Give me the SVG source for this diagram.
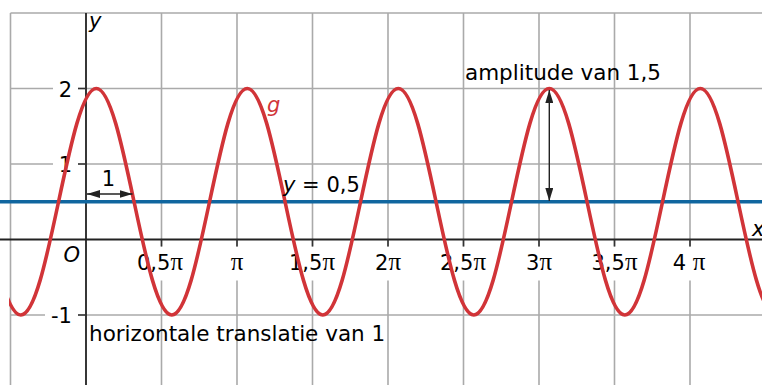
<svg xmlns="http://www.w3.org/2000/svg" width="762" height="385" viewBox="0 0 762 385">
<defs>
<style>
.grid{stroke:#aaaaaa;stroke-width:1.6;fill:none}
.axis{stroke:#222;stroke-width:1.8;fill:none}
.tick{stroke:#333;stroke-width:1.6}
.bg{fill:#fff}
text{font-family:"DejaVu Sans","Liberation Sans",sans-serif;font-size:21px;fill:#000}
.ann{font-size:21.5px}
.it{font-style:italic}
.pi{font-family:"Liberation Serif","DejaVu Serif",serif;font-size:25px}
.xl{text-anchor:middle}
.yl{text-anchor:end}
.arr{stroke:#222;stroke-width:1.4;fill:none;marker-start:url(#ah);marker-end:url(#ah)}
</style>
<marker id="ah" markerUnits="userSpaceOnUse" markerWidth="14" markerHeight="8" refX="13" refY="4" orient="auto-start-reverse" viewBox="0 0 14 8">
<path d="M0,0 L13,4 L0,8 z" fill="#222"/>
</marker>
<clipPath id="clip"><rect x="9" y="0" width="760" height="385"/></clipPath>
</defs>
<rect width="762" height="385" fill="#fff"/>
<g id="grid" class="grid">
<path d="M10.5,13V385 M161.5,13V385 M237,13V385 M312.5,13V385 M388,13V385 M463.5,13V385 M539,13V385 M614.5,13V385 M690,13V385"/>
<path d="M10.5,13H762 M10.5,88.5H762 M10.5,164H762 M10.5,315H762"/>
</g>
<g id="label-bg">
<rect class="bg" x="53" y="78" width="25" height="21"/>
<rect class="bg" x="53" y="154" width="25" height="21"/>
<rect class="bg" x="45" y="305" width="33" height="21"/>
<rect class="bg" x="155" y="246.5" width="13" height="34"/>
<rect class="bg" x="230" y="246.5" width="14" height="34"/>
<rect class="bg" x="306" y="246.5" width="13" height="34"/>
<rect class="bg" x="381" y="246.5" width="14" height="34"/>
<rect class="bg" x="457" y="246.5" width="13" height="34"/>
<rect class="bg" x="532" y="246.5" width="14" height="34"/>
<rect class="bg" x="608" y="246.5" width="13" height="34"/>
<rect class="bg" x="683" y="246.5" width="14" height="34"/>
</g>
<g id="axes">
<path class="axis" d="M0,239.5H762 M86,13V385"/>
<path class="tick" d="M78,88.5H86 M78,164H86 M78,315H86 M161.5,239.5V246.5 M237,239.5V246.5 M312.5,239.5V246.5 M388,239.5V246.5 M463.5,239.5V246.5 M539,239.5V246.5 M614.5,239.5V246.5 M690,239.5V246.5"/>
</g>
<g id="tick-labels">
<text class="yl" x="72" y="96.5">2</text>
<text class="yl" x="72" y="172">1</text>
<text class="yl" x="72" y="323">-1</text>
<text class="yl it" x="80" y="262">O</text>
<text class="it" x="89" y="28">y</text>
<text class="it" x="752" y="236">x</text>
<text class="xl" x="160" y="270">0,5<tspan class="pi">π</tspan></text>
<text class="xl" x="237" y="270"><tspan class="pi">π</tspan></text>
<text class="xl" x="312" y="270">1,5<tspan class="pi">π</tspan></text>
<text class="xl" x="388" y="270">2<tspan class="pi">π</tspan></text>
<text class="xl" x="463" y="270">2,5<tspan class="pi">π</tspan></text>
<text class="xl" x="539" y="270">3<tspan class="pi">π</tspan></text>
<text class="xl" x="614.5" y="270">3,5<tspan class="pi">π</tspan></text>
<text class="xl" x="689" y="270">4 <tspan class="pi">π</tspan></text>
</g>
<g id="line-y05">
<path d="M0,201.75H762" stroke="#10669f" stroke-width="3.6" fill="none"/>
</g>
<g id="graph-g" clip-path="url(#clip)">
<path fill="none" stroke="#d13438" stroke-width="3.6" stroke-linecap="round" d="M-16.95,201.75
c12.31,58.02 24.09,113.25 37.75,113.25 c13.66,0 25.44,-55.23 37.75,-113.25 c12.31,-58.02 24.09,-113.25 37.75,-113.25 c13.66,0 25.44,55.23 37.75,113.25
c12.31,58.02 24.09,113.25 37.75,113.25 c13.66,0 25.44,-55.23 37.75,-113.25 c12.31,-58.02 24.09,-113.25 37.75,-113.25 c13.66,0 25.44,55.23 37.75,113.25
c12.31,58.02 24.09,113.25 37.75,113.25 c13.66,0 25.44,-55.23 37.75,-113.25 c12.31,-58.02 24.09,-113.25 37.75,-113.25 c13.66,0 25.44,55.23 37.75,113.25
c12.31,58.02 24.09,113.25 37.75,113.25 c13.66,0 25.44,-55.23 37.75,-113.25 c12.31,-58.02 24.09,-113.25 37.75,-113.25 c13.66,0 25.44,55.23 37.75,113.25
c12.31,58.02 24.09,113.25 37.75,113.25 c13.66,0 25.44,-55.23 37.75,-113.25 c12.31,-58.02 24.09,-113.25 37.75,-113.25 c13.66,0 25.44,55.23 37.75,113.25
c12.31,58.02 24.09,113.25 37.75,113.25"/>
</g>
<g id="connectors">
<path class="arr" d="M87,194H132.5"/>
<path class="arr" d="M549.3,90V201"/>
</g>
<g id="annotations">
<text class="ann" x="465" y="80">amplitude van 1,5</text>
<text class="it" x="267" y="111.5" fill="#d13438" style="fill:#d13438">g</text>
<text x="283" y="192"><tspan class="it">y</tspan> = 0,5</text>
<text class="xl" x="108.5" y="186">1</text>
<text class="ann" x="89" y="341">horizontale translatie van 1</text>
</g>
</svg>
